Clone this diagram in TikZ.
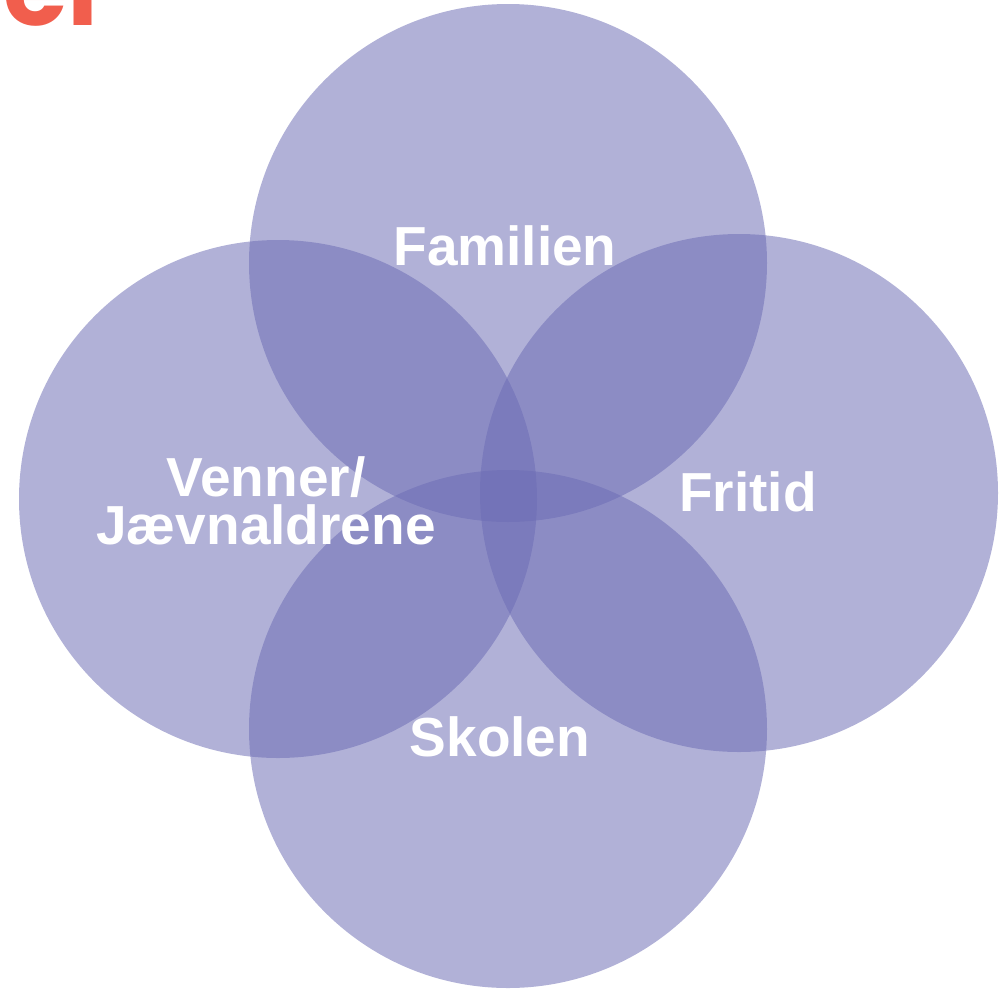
\documentclass[tikz,border=0pt]{standalone}
\usepackage{fontspec}
\setmainfont{Liberation Sans}
\newfontfamily\logofont{Poppins}
\definecolor{circ}{RGB}{108,108,180}
\definecolor{logored}{RGB}{241,94,77}
\begin{document}
\begin{tikzpicture}[x=1pt,y=-1pt,
  ring/.style={fill=circ,fill opacity=0.53,draw=none},
  lbl/.style={text=white,font=\fontsize{55}{48}\selectfont\bfseries,align=center,inner sep=0pt}]
\useasboundingbox (0,0) rectangle (1005,989);
\clip (0,0) rectangle (1005,989);
\node[anchor=base west,inner sep=0pt,text=logored,font=\logofont\fontsize{105}{105}\selectfont\bfseries] (logo) at (3,25) {er};
\fill[ring] (508,263) circle (259);
\fill[ring] (278,499) circle (259);
\fill[ring] (739,493) circle (259);
\fill[ring] (508,729) circle (259);
\node[lbl,anchor=base] (fam) at (505,265) {Familien};
\node[lbl,anchor=base] (fri) at (748,511) {Fritid};
\node[lbl,anchor=base] (sko) at (500,756) {Skolen};
\node[lbl,anchor=center] (ven) at (266,501) {Venner/\\Jævnaldrene};
\end{tikzpicture}
\end{document}
